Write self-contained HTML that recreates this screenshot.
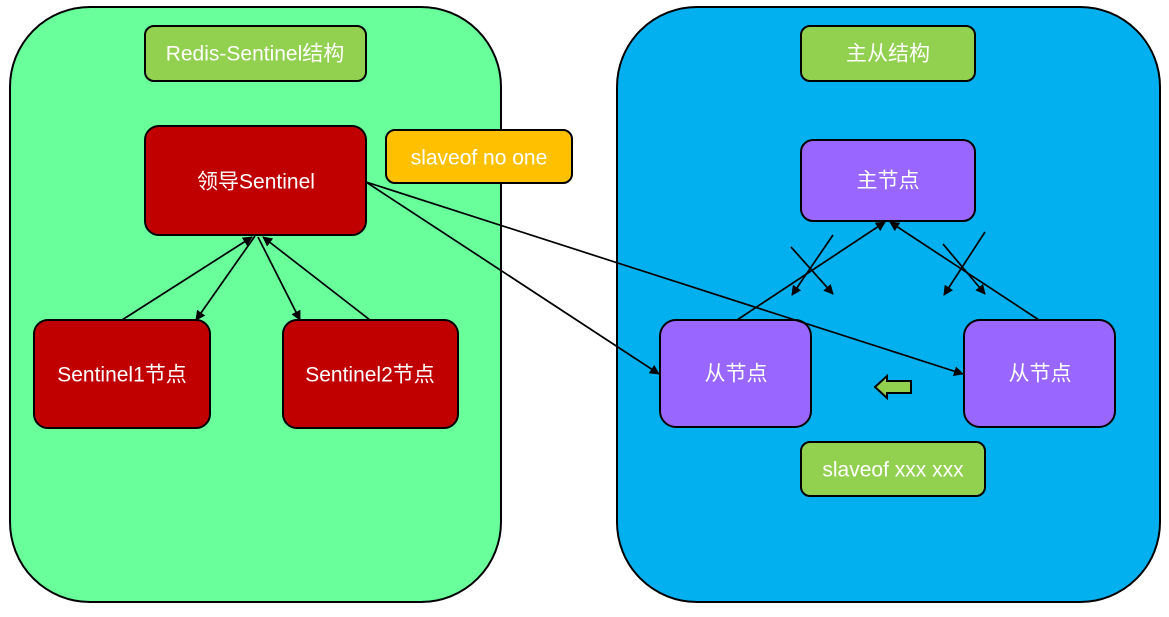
<!DOCTYPE html>
<html><head><meta charset="utf-8"><style>
body{margin:0;background:#fff;width:1169px;height:612px;overflow:hidden}
svg text{font-family:"Liberation Sans","Noto Sans CJK SC",sans-serif;fill:#fff;text-anchor:middle;dominant-baseline:central}
</style></head><body>
<svg width="1169" height="612" viewBox="0 0 1169 612">
<defs><marker id="a" viewBox="0 0 10 10" refX="9" refY="5" markerWidth="10" markerHeight="10" markerUnits="userSpaceOnUse" orient="auto"><path d="M0,0L10,5L0,10z" fill="#000"/></marker></defs>
<rect x="10" y="7" width="491" height="595" rx="80" fill="#69ff9b" stroke="#000" stroke-width="2"/>
<rect x="617" y="7" width="543" height="595" rx="80" fill="#02b0ef" stroke="#000" stroke-width="2"/>
<g stroke="#000" stroke-width="2">
<rect x="145" y="26" width="221" height="55" rx="9" fill="#92d050"/>
<rect x="801" y="26" width="174" height="55" rx="9" fill="#92d050"/>
<rect x="145" y="126" width="221" height="109" rx="14" fill="#c00000"/>
<rect x="386" y="130" width="186" height="53" rx="9" fill="#ffc000"/>
<rect x="34" y="320" width="176" height="108" rx="14" fill="#c00000"/>
<rect x="283" y="320" width="175" height="108" rx="14" fill="#c00000"/>
<rect x="801" y="140" width="174" height="81" rx="12" fill="#9966ff"/>
<rect x="660" y="320" width="151" height="107" rx="16" fill="#9966ff"/>
<rect x="964" y="320" width="151" height="107" rx="16" fill="#9966ff"/>
<rect x="801" y="442" width="184" height="54" rx="9" fill="#92d050"/>
</g>
<g stroke="#000" stroke-width="1.7" marker-end="url(#a)" fill="none">
<line x1="255" y1="236" x2="196" y2="320"/>
<line x1="122" y1="320" x2="252" y2="237"/>
<line x1="258" y1="237" x2="300" y2="320"/>
<line x1="370" y1="320" x2="263" y2="237"/>
<line x1="366" y1="182" x2="659" y2="374"/>
<line x1="366" y1="182" x2="963" y2="374"/>
<line x1="737" y1="320" x2="885" y2="222"/>
<line x1="1039" y1="320" x2="890" y2="222"/>
<line x1="791" y1="247" x2="833" y2="294"/>
<line x1="833" y1="235" x2="792" y2="295"/>
<line x1="943" y1="244" x2="985" y2="294"/>
<line x1="985" y1="232" x2="944" y2="295"/>
</g>
<path d="M875,387L887,376V381H911V393H887V398Z" fill="#92d050" stroke="#000" stroke-width="2"/>
<text x="255" y="54" font-size="21">Redis-Sentinel结构</text>
<text x="888" y="54" font-size="21">主从结构</text>
<text x="256" y="182" font-size="21">领导Sentinel</text>
<text x="479" y="158" font-size="21">slaveof no one</text>
<text x="122" y="375" font-size="21">Sentinel1节点</text>
<text x="370" y="375" font-size="21">Sentinel2节点</text>
<text x="888" y="181" font-size="21">主节点</text>
<text x="736" y="374" font-size="21">从节点</text>
<text x="1040" y="374" font-size="21">从节点</text>
<text x="893" y="470" font-size="21">slaveof xxx xxx</text>
</svg>
</body></html>
